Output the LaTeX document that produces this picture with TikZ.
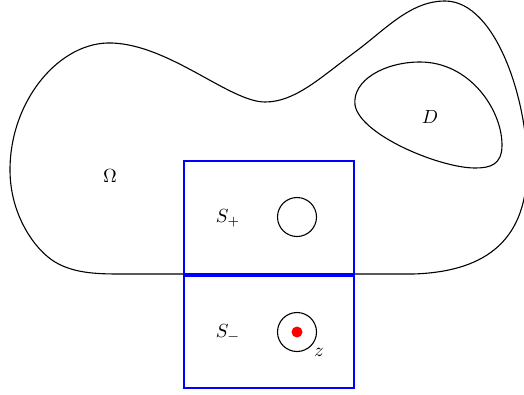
\documentclass[tikz,border=0pt]{standalone}
\usepackage{graphicx}
\usepackage{tikz}
\begin{document}
\begin{tikzpicture}[x=1pt,y=-1pt,
  curve/.style={black,line width=1.1pt},
  box/.style={draw=blue,line width=1.3pt},
  hole/.style={circle,draw=black,line width=1.1pt,minimum size=39pt,inner sep=0pt},
  lbl/.style={inner sep=0pt},
  pt/.style={circle,fill=red,minimum size=11pt,inner sep=0pt}]
\useasboundingbox (0,0) rectangle (524,394);
% outer domain Omega
\draw[curve] (123,274) -- (413,274)
  .. controls (480,272) and (526,245) .. (527,170)
  .. controls (529,105) and (497,1) .. (445,1)
  .. controls (410,1) and (385,30) .. (355,52)
  .. controls (320,78) and (295,102) .. (265,102)
  .. controls (230,102) and (170,45) .. (112,43)
  .. controls (60,41) and (10,100) .. (10,170)
  .. controls (10,215) and (35,250) .. (55,262)
  .. controls (75,274) and (100,274) .. (123,274) -- cycle;
% inner domain D
\draw[curve] (355,105)
  .. controls (352,80) and (385,62) .. (420,62)
  .. controls (470,62) and (502,110) .. (502,145)
  .. controls (502,165) and (490,168) .. (475,168)
  .. controls (440,168) and (360,135) .. (355,105) -- cycle;
% boxes
\draw[box] (184,161) rectangle (354,274);
\draw[box] (184,276) rectangle (354,388);
% holes
\node[hole] (cp) at (297,217) {};
\node[hole] (cm) at (297,332) {};
\node[pt] (zp) at (297,332) {};
% labels
\node[lbl] (om) at (110,176) {\scalebox{1.9}{$\Omega$}};
\node[lbl] (dl) at (430,117) {\scalebox{1.9}{$D$}};
\node[lbl] (sp) at (228,218) {\scalebox{1.9}{$S_+$}};
\node[lbl] (sm) at (228,333) {\scalebox{1.9}{$S_-$}};
\node[lbl] (zl) at (319,352) {\scalebox{1.9}{$z$}};
\end{tikzpicture}
\end{document}
